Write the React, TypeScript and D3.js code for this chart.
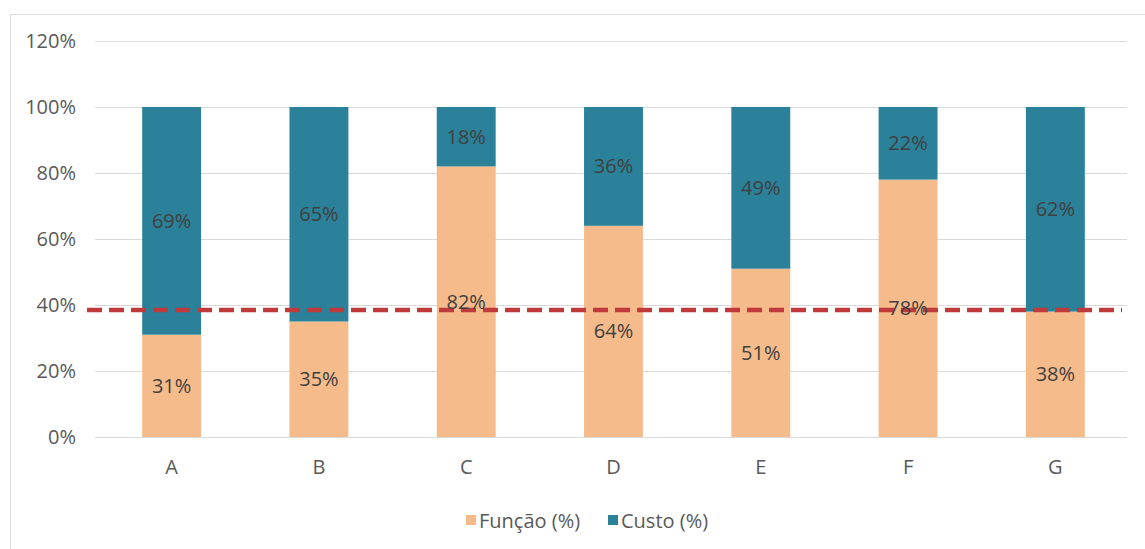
import { useEffect, useRef } from "react"
import * as d3 from "d3"

const categories = ["A", "B", "C", "D", "E", "F", "G"]
const funcao = [0.31, 0.35, 0.82, 0.64, 0.51, 0.78, 0.38]
const custo = [0.69, 0.65, 0.18, 0.36, 0.49, 0.22, 0.62]
const yTicks = [0, 0.2, 0.4, 0.6, 0.8, 1.0, 1.2]
const threshold = 0.385
const seriesNames = ["Função (%)", "Custo (%)"]
const seriesColors = ["#f6bb8b", "#2a8199"]

const W = 1145
const H = 549
const FONT = "'Open Sans', sans-serif"
const FS = 20

const App = () => {
  const svgRef = useRef<SVGSVGElement>(null)

  useEffect(() => {
    const svg = d3.select(svgRef.current)
    svg.selectAll("*").remove()

    const data = categories.map((c, i) => ({ cat: c, f: funcao[i], c: custo[i] }))

    const x = d3.scaleBand().domain(categories).range([98, 1129]).paddingInner(0.6).paddingOuter(0.3)
    const y = d3.scaleLinear().domain([0, 1.2]).range([437, 41])

    // outer frame (left + top)
    svg.append("line").attr("x1", 10.5).attr("x2", 10.5).attr("y1", 14).attr("y2", H).attr("stroke", "#d9d9d9")
    svg.append("line").attr("x1", 10).attr("x2", W).attr("y1", 14.5).attr("y2", 14.5).attr("stroke", "#d9d9d9")

    // gridlines
    svg
      .append("g")
      .selectAll("line")
      .data(yTicks)
      .enter()
      .append("line")
      .attr("x1", 95)
      .attr("x2", 1127)
      .attr("y1", (d) => Math.round(y(d)) + 0.5)
      .attr("y2", (d) => Math.round(y(d)) + 0.5)
      .attr("stroke", "#d9d9d9")
      .attr("stroke-width", 1)

    // y tick labels
    svg
      .append("g")
      .selectAll("text")
      .data(yTicks)
      .enter()
      .append("text")
      .attr("x", 76)
      .attr("y", (d) => y(d) + 7)
      .attr("text-anchor", "end")
      .attr("font-family", FONT)
      .attr("font-size", FS)
      .attr("fill", "#595959")
      .text((d) => d3.format(".0%")(d))

    // stacked bars
    const stacked = d3.stack<any>().keys(["f", "c"])(data)
    stacked.forEach((layer, i) => {
      svg
        .append("g")
        .attr("fill", seriesColors[i])
        .selectAll("rect")
        .data(layer)
        .enter()
        .append("rect")
        .attr("x", (d) => x(d.data.cat)!)
        .attr("y", (d) => y(d[1]))
        .attr("width", x.bandwidth())
        .attr("height", (d) => y(d[0]) - y(d[1]))
    })

    // category labels
    svg
      .append("g")
      .selectAll("text")
      .data(categories)
      .enter()
      .append("text")
      .attr("x", (d) => x(d)! + x.bandwidth() / 2)
      .attr("y", 474)
      .attr("text-anchor", "middle")
      .attr("font-family", FONT)
      .attr("font-size", FS)
      .attr("fill", "#595959")
      .text((d) => d)

    // threshold line
    svg
      .append("line")
      .attr("x1", 87)
      .attr("x2", 1122)
      .attr("y1", y(threshold))
      .attr("y2", y(threshold))
      .attr("stroke", "#c0393b")
      .attr("stroke-width", 4.5)
      .attr("stroke-dasharray", "15 7")

    // value labels
    stacked.forEach((layer) => {
      svg
        .append("g")
        .selectAll("text")
        .data(layer)
        .enter()
        .append("text")
        .attr("x", (d) => x(d.data.cat)! + x.bandwidth() / 2)
        .attr("y", (d) => y((d[0] + d[1]) / 2) + 7)
        .attr("text-anchor", "middle")
        .attr("font-family", FONT)
        .attr("font-size", FS)
        .attr("fill", "#404040")
        .text((d) => d3.format(".0%")(d[1] - d[0]))
    })

    // legend
    const legend = svg.append("g")
    const items = [
      { name: seriesNames[0], color: seriesColors[0], x: 466 },
      { name: seriesNames[1], color: seriesColors[1], x: 608 },
    ]
    items.forEach((it) => {
      legend.append("rect").attr("x", it.x).attr("y", 515).attr("width", 10).attr("height", 10).attr("fill", it.color)
      legend
        .append("text")
        .attr("x", it.x + 13)
        .attr("y", 528)
        .attr("font-family", FONT)
        .attr("font-size", FS)
        .attr("fill", "#595959")
        .text(it.name)
    })
  }, [])

  return (
    <svg
      ref={svgRef}
      width={W}
      height={H}
      style={{ position: "absolute", left: 0, top: 0, background: "#fff" }}
    />
  )
}

export default App
